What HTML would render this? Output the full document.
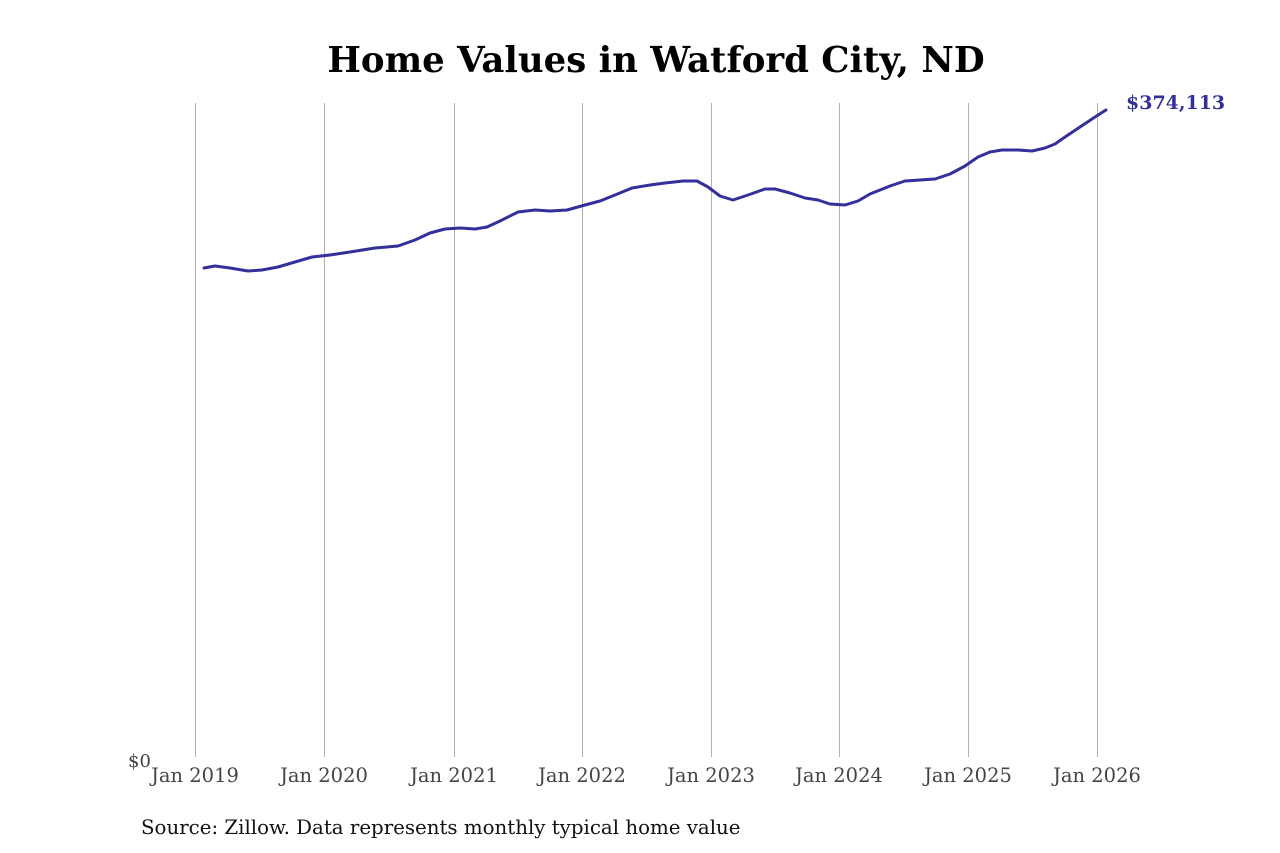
<!DOCTYPE html>
<html><head><style>
body{margin:0;background:#fff;}
svg{display:block;}
text{font-family:"DejaVu Serif","Liberation Serif",serif;}
</style></head><body>
<svg width="1280" height="853" viewBox="0 0 1280 853" xmlns="http://www.w3.org/2000/svg">
<rect width="1280" height="853" fill="#fff"/>
<text x="656" y="72" text-anchor="middle" font-size="35.5" font-weight="bold" fill="#000">Home Values in Watford City, ND</text>
<g stroke="#b0b0b0" stroke-width="1">
<line x1="195.5" y1="103" x2="195.5" y2="757"/>
<line x1="324.5" y1="103" x2="324.5" y2="757"/>
<line x1="454.5" y1="103" x2="454.5" y2="757"/>
<line x1="582.5" y1="103" x2="582.5" y2="757"/>
<line x1="711.5" y1="103" x2="711.5" y2="757"/>
<line x1="839.5" y1="103" x2="839.5" y2="757"/>
<line x1="968.5" y1="103" x2="968.5" y2="757"/>
<line x1="1097.5" y1="103" x2="1097.5" y2="757"/>
</g>
<g font-size="19.5" fill="#444" text-anchor="middle">
<text x="195" y="782">Jan 2019</text>
<text x="324" y="782">Jan 2020</text>
<text x="454" y="782">Jan 2021</text>
<text x="582" y="782">Jan 2022</text>
<text x="711" y="782">Jan 2023</text>
<text x="839" y="782">Jan 2024</text>
<text x="968" y="782">Jan 2025</text>
<text x="1097" y="782">Jan 2026</text>
</g>
<text x="128" y="767" font-size="18" fill="#444">$0</text>
<polyline fill="none" stroke="#33309a" stroke-width="3" stroke-linejoin="round" stroke-linecap="round"
points="204,268 215,266 230,268 248,271 262,270 278,267 295,262 312,257 330,255 350,252 375,248 398,246 415,240 430,233 445,229 460,228 475,229 487,227 500,221 518,212 535,210 550,211 567,210 585,205 600,201 615,195 632,188 650,185 665,183 683,181 697,181 708,187 720,196 733,200 748,195 765,189 775,189 790,193 805,198 818,200 830,204 845,205 858,201 870,194 890,186 905,181 920,180 935,179 950,174 965,166 978,157 990,152 1002,150 1018,150 1032,151 1045,148 1055,144 1065,137 1080,127 1095,117 1106,110"/>
<text x="1126" y="109" font-size="19" font-weight="bold" fill="#33309a">$374,113</text>
<text x="141" y="834" font-size="19.8" fill="#111">Source: Zillow. Data represents monthly typical home value</text>
</svg>
</body></html>
